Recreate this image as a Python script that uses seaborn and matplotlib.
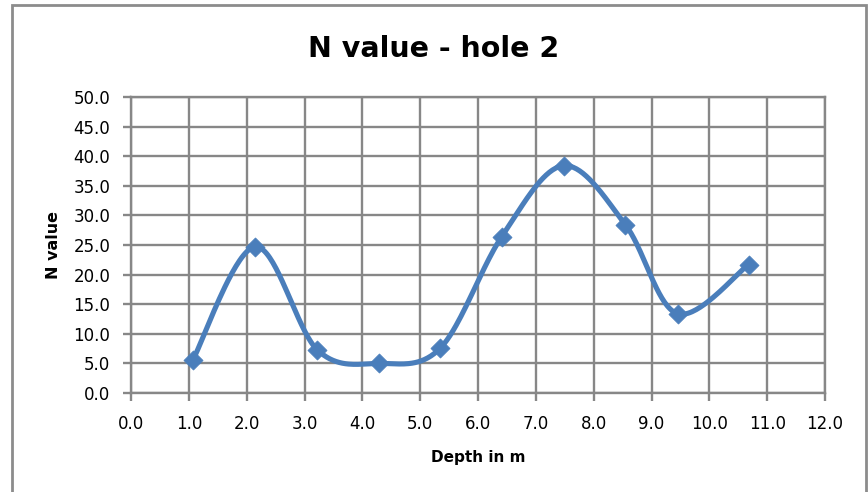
import numpy as np
import pandas as pd
import matplotlib
matplotlib.use("Agg")
import matplotlib.pyplot as plt
import seaborn as sns
from matplotlib.patches import Rectangle

# ---- data ----
depth = [1.07, 2.15, 3.22, 4.28, 5.35, 6.41, 7.48, 8.55, 9.45, 10.68]
n_value = [5.6, 24.7, 7.3, 5.0, 7.6, 26.4, 38.4, 28.4, 13.4, 21.7]
x_ticks = [0, 1, 2, 3, 4, 5, 6, 7, 8, 9, 10, 11, 12]
y_ticks = [0, 5, 10, 15, 20, 25, 30, 35, 40, 45, 50]
title = "N value - hole 2"
x_label = "Depth in m"
y_label = "N value"

sns.set_theme(style="white")
plt.rcParams['font.family'] = ['DejaVu Sans']
plt.rcParams['text.color'] = 'black'
plt.rcParams['axes.labelcolor'] = 'black'

BLUE = "#4a7ebb"
GRID = "#878787"

fig = plt.figure(figsize=(8.68, 4.92), dpi=100)
ax = fig.add_axes([131/868, 1-393/492, (825-131)/868, (393-97)/492])

df = pd.DataFrame({"depth": depth, "n": n_value})


def excel_smooth(xs, ys, nseg=40):
    """Catmull-Rom style Bezier smoothing (as spreadsheet 'smoothed line')."""
    P = np.column_stack([xs, ys]).astype(float)
    n = len(P)
    out = []
    for i in range(n - 1):
        p0 = P[i - 1] if i > 0 else P[i]
        p1 = P[i]
        p2 = P[i + 1]
        p3 = P[i + 2] if i + 2 < n else P[i + 1]
        c1 = p1 + (p2 - p0) / 6.0
        c2 = p2 - (p3 - p1) / 6.0
        t = np.linspace(0, 1, nseg)[:, None]
        seg = ((1 - t) ** 3) * p1 + 3 * ((1 - t) ** 2) * t * c1 + 3 * (1 - t) * t ** 2 * c2 + t ** 3 * p2
        out.append(seg if i == 0 else seg[1:])
    out = np.vstack(out)
    return out[:, 0], out[:, 1]


sx, sy = excel_smooth(df["depth"].values, df["n"].values)
smooth_df = pd.DataFrame({"depth": sx, "n": sy})

sns.lineplot(data=smooth_df, x="depth", y="n", ax=ax, color=BLUE, linewidth=3.7,
             sort=False, estimator=None, zorder=3)
sns.scatterplot(data=df, x="depth", y="n", ax=ax, color=BLUE, marker="D", s=95,
                edgecolor=BLUE, linewidth=0.5, zorder=4)

ax.set_xlim(0, 12)
ax.set_ylim(0, 50)
ax.set_xticks(x_ticks)
ax.set_yticks(y_ticks)
ax.set_xticklabels([f"{v:.1f}" for v in x_ticks])
ax.set_yticklabels([f"{v:.1f}" for v in y_ticks])
ax.grid(True, color=GRID, linewidth=1.7)
ax.set_axisbelow(True)
for s in ax.spines.values():
    s.set_color(GRID)
    s.set_linewidth(1.7)
ax.tick_params(axis="both", which="both", length=6, width=1.7, color=GRID,
               labelsize=12, labelcolor="#000000", direction="out",
               bottom=True, left=True)
ax.tick_params(axis="x", pad=10)
ax.tick_params(axis="y", pad=9)

ax.set_xlabel(x_label, fontsize=11, fontweight="bold", labelpad=12, color="black")
ax.set_ylabel(y_label, fontsize=11.5, fontweight="bold", labelpad=9, color="black")

fig.text(0.5, 1 - 49/492, title, ha="center", va="center", fontsize=20.5,
         fontweight="bold", color="black")

# chart-area border
fig.patches.append(Rectangle((12/868, -0.02), (866-12)/868, 1 - 5/492 + 0.02,
                             transform=fig.transFigure, fill=False,
                             edgecolor="#8c8c8c", linewidth=2))

fig.savefig("out.png", dpi=100)
